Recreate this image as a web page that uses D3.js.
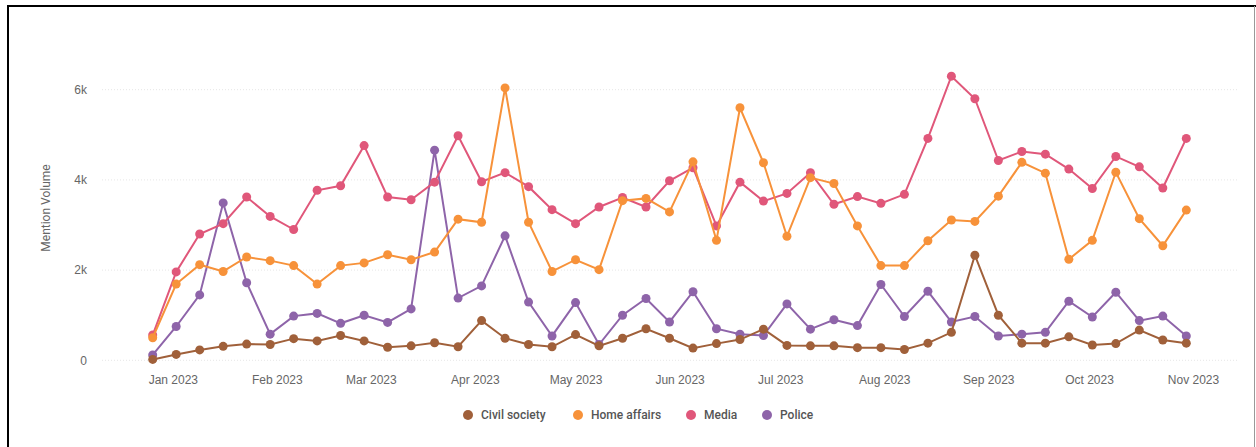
<!DOCTYPE html>
<html>
<head>
<meta charset="utf-8">
<script src="https://d3js.org/d3.v7.min.js"></script>
<style>
  body { margin: 0; background: #fff; }
  svg { display: block; font-family: Roboto, "Noto Sans", sans-serif; }
  .grid line { stroke: #e6e6e6; stroke-dasharray: 1,2; }
  .tick text { fill: #666; font-size: 12px; }
  .legend text { fill: #555; font-size: 12px; font-weight: 500; }
</style>
</head>
<body>
<svg id="chart" width="1256" height="447"></svg>
<script>
// weekly points, first week starts Mon 26 Dec 2022
var startWeek = "2022-12-26";
var monthTicks = ["2023-01-01", "2023-02-01", "2023-03-01", "2023-04-01", "2023-05-01", "2023-06-01",
  "2023-07-01", "2023-08-01", "2023-09-01", "2023-10-01", "2023-11-01"];
var seriesNames = ["Civil society", "Home affairs", "Media", "Police"];
var seriesColors = ["#a0603a", "#f7923a", "#e0577a", "#8e64a9"];

var civilSociety = [20, 130, 230, 310, 360, 350, 480, 430, 550, 430, 290, 320,
  390, 300, 880, 490, 350, 300, 570, 320, 490, 700, 490, 270,
  370, 460, 690, 330, 320, 320, 280, 280, 240, 380, 620, 2330,
  1000, 380, 380, 520, 340, 370, 670, 450, 380];
var homeAffairs = [500, 1690, 2120, 1970, 2290, 2210, 2100, 1690, 2100, 2160, 2340, 2230,
  2400, 3130, 3060, 6040, 3060, 1970, 2230, 2010, 3540, 3590, 3290, 4400,
  2660, 5600, 4380, 2750, 4050, 3920, 2980, 2100, 2100, 2650, 3110, 3080,
  3640, 4390, 4150, 2240, 2660, 4170, 3140, 2540, 3330];
var media = [560, 1960, 2800, 3030, 3620, 3190, 2900, 3770, 3870, 4760, 3620, 3560,
  3950, 4980, 3960, 4160, 3850, 3340, 3030, 3400, 3610, 3400, 3980, 4270,
  2980, 3950, 3530, 3700, 4160, 3460, 3630, 3480, 3680, 4920, 6300, 5800,
  4430, 4630, 4570, 4240, 3810, 4520, 4290, 3820, 4920];
var police = [120, 750, 1450, 3490, 1720, 580, 980, 1040, 820, 1000, 840, 1140,
  4660, 1380, 1650, 2760, 1290, 540, 1280, 350, 1000, 1370, 850, 1520,
  700, 580, 550, 1250, 690, 900, 770, 1680, 970, 1530, 850, 970,
  540, 580, 620, 1310, 960, 1510, 880, 980, 540];

var yTicks = [0, 2000, 4000, 6000];

var svg = d3.select("#chart");

// outer frame
svg.append("line").attr("x1", 7).attr("x2", 1256).attr("y1", 6).attr("y2", 6)
  .attr("stroke", "#000").attr("stroke-width", 2);
svg.append("line").attr("x1", 8).attr("x2", 8).attr("y1", 5).attr("y2", 447)
  .attr("stroke", "#000").attr("stroke-width", 2);
svg.append("line").attr("x1", 1254.5).attr("x2", 1254.5).attr("y1", 6).attr("y2", 447)
  .attr("stroke", "#999").attr("stroke-width", 1);

var parse = d3.timeParse("%Y-%m-%d");
var t0 = parse(startWeek);
var dates = civilSociety.map((d, i) => d3.timeDay.offset(t0, i * 7));

var x = d3.scaleTime([dates[0], dates[dates.length - 1]], [152.7, 1186.3]);
var y = d3.scaleLinear([0, 6000], [360.3, 89.7]);

// gridlines
var grid = svg.append("g").attr("class", "grid");
grid.selectAll("line").data(yTicks).join("line")
  .attr("x1", 102).attr("x2", 1239)
  .attr("y1", d => y(d)).attr("y2", d => y(d))
  .attr("stroke", d => d == 0 ? "#ccd6eb" : "#e6e6e6");

// y axis
var yAxis = svg.append("g")
  .attr("transform", "translate(87,0)")
  .call(d3.axisLeft(y).tickValues(yTicks).tickSize(0).tickPadding(0)
    .tickFormat(d => d == 0 ? "0" : (d / 1000) + "k"));
yAxis.select(".domain").remove();

svg.append("text")
  .attr("transform", "translate(50,208) rotate(-90)")
  .attr("text-anchor", "middle")
  .attr("fill", "#666")
  .style("font-size", "12px")
  .text("Mention Volume");

// x axis
var xAxis = svg.append("g")
  .attr("transform", "translate(0,371)")
  .call(d3.axisBottom(x).tickValues(monthTicks.map(parse)).tickSize(0).tickPadding(4)
    .tickFormat(d3.timeFormat("%b %Y")));
xAxis.select(".domain").remove();

// series
var allSeries = [civilSociety, homeAffairs, media, police];
var line = d3.line().x((d, i) => x(dates[i])).y(d => y(d));

// draw in reverse so Civil society ends on top like the reference
var order = [3, 2, 1, 0];
order.forEach(function (k) {
  var g = svg.append("g");
  g.append("path")
    .datum(allSeries[k])
    .attr("d", line)
    .attr("fill", "none")
    .attr("stroke", seriesColors[k])
    .attr("stroke-width", 2);
  g.selectAll("circle").data(allSeries[k]).join("circle")
    .attr("cx", (d, i) => x(dates[i]))
    .attr("cy", d => y(d))
    .attr("r", 4.5)
    .attr("fill", seriesColors[k]);
});

// legend
var legendX = [468, 578, 691, 767];
var legend = svg.append("g").attr("class", "legend");
var items = legend.selectAll("g").data(seriesNames).join("g")
  .attr("transform", (d, i) => "translate(" + legendX[i] + ",415)");
items.append("circle").attr("r", 5).attr("fill", (d, i) => seriesColors[i]);
items.append("text").attr("x", 13).attr("dy", "0.35em").text(d => d);
</script>
</body>
</html>
